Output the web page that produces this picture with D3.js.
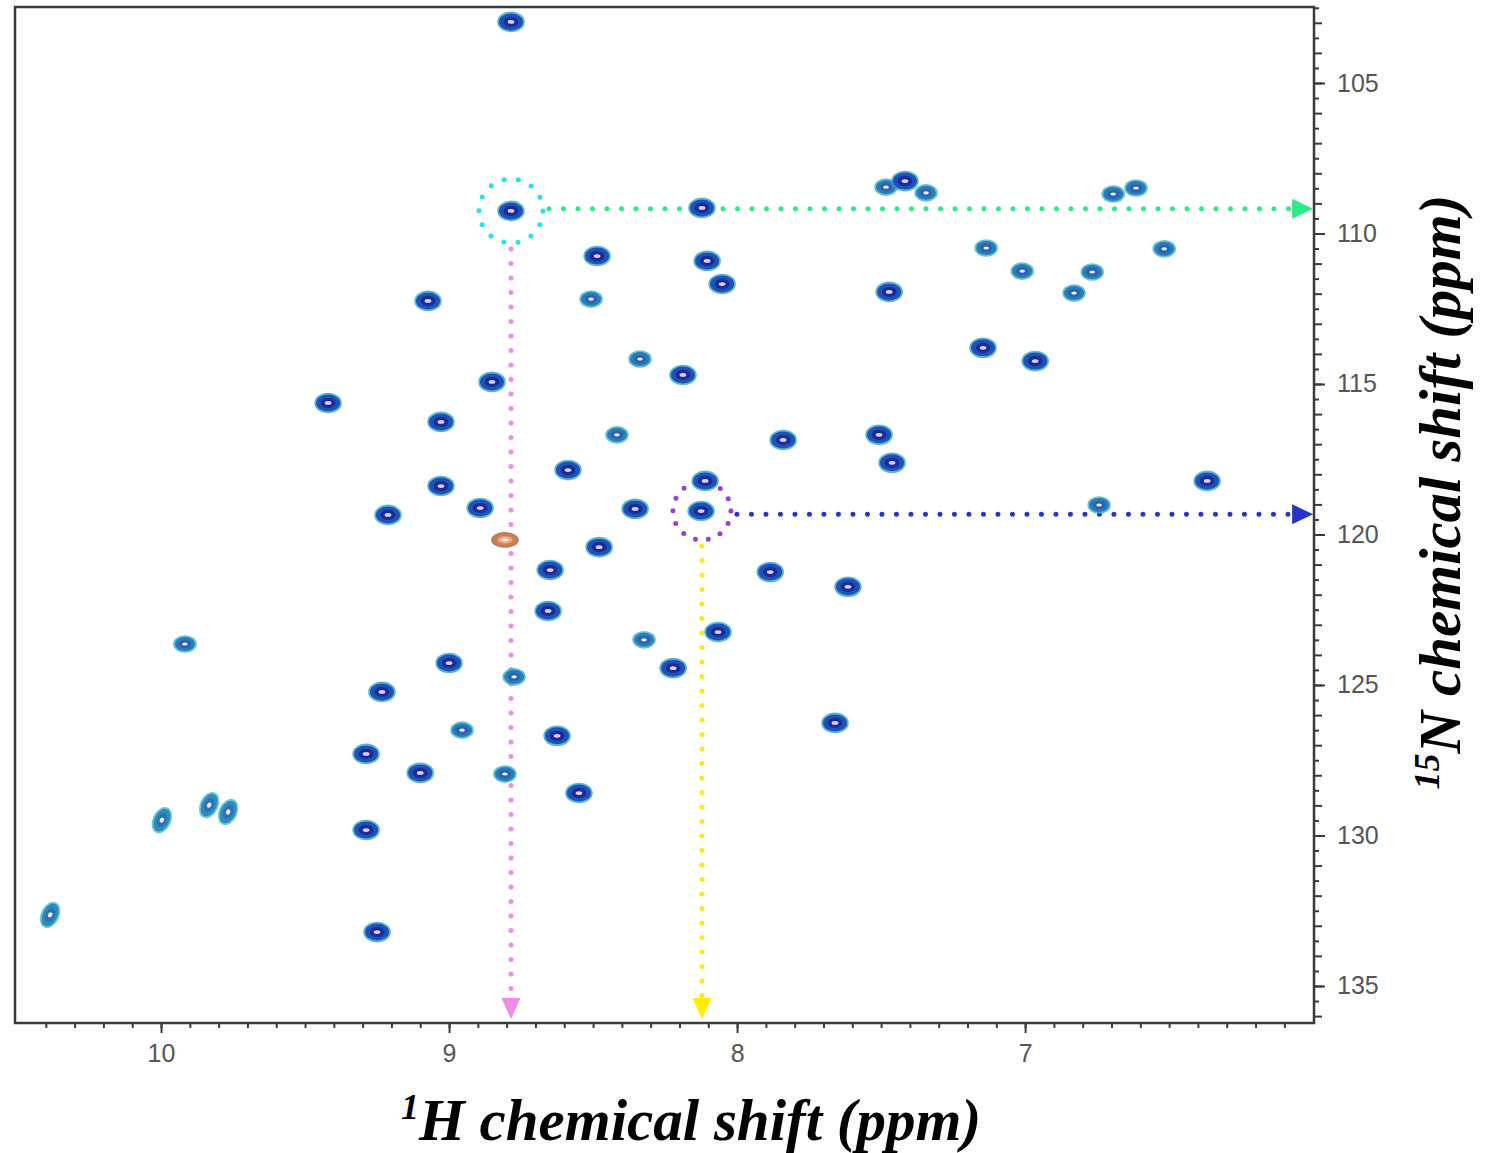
<!DOCTYPE html>
<html><head><meta charset="utf-8">
<script src="https://cdn.jsdelivr.net/npm/d3@7"></script>
<style>body{margin:0;background:#fff;}svg{display:block;}</style>
</head><body>
<svg id="c" width="1490" height="1153"></svg>
<script>
// 1H (ppm) and 15N (ppm) peak positions
const peakH = [8.785,8.785,8.122,7.483,7.417,7.344,6.694,6.615,7.135,6.517,7.010,6.767,6.830,8.486,8.104,8.052,9.073,8.507,7.472,7.146,6.965,8.337,8.188,8.851,9.420,9.028,8.417,7.840,7.507,7.462,8.587,9.028,8.111,6.368,8.892,9.212,8.354,8.125,6.743,8.806,8.479,8.649,7.885,7.615,8.656,8.066,8.323,9.917,9.000,8.222,8.774,9.233,8.955,7.660,8.625,9.288,9.100,8.806,8.549,9.833,9.767,9.997,9.288,10.385,9.250];
const peakN = [102.97,109.25,109.15,108.46,108.26,108.65,108.69,108.49,110.48,110.51,111.25,111.28,111.98,110.75,110.91,111.68,112.24,112.18,111.94,113.80,114.24,114.17,114.70,114.93,115.63,116.26,116.69,116.86,116.69,117.62,117.86,118.39,118.22,118.22,119.12,119.35,119.15,119.22,119.02,120.18,120.42,121.18,121.25,121.74,122.54,123.24,123.50,123.64,124.27,124.44,124.73,125.23,126.50,126.26,126.69,127.29,127.92,127.96,128.59,128.99,129.22,129.49,129.82,132.64,133.21];
// s = strong, w = weak, t = tilted (lineshape), o = negative / folded (orange)
const peakKind = ["s","s","s","w","s","w","w","w","w","w","w","w","w","s","s","s","s","w","s","s","s","w","s","s","s","s","w","s","s","s","s","s","s","s","s","s","s","s","w","o","s","s","s","s","s","s","w","w","s","s","w","s","w","s","s","s","s","w","s","t","t","t","s","t","s"];

const xTickLabels = ["10","9","8","7"];
const yTickLabels = ["105","110","115","120","125","130","135"];

// highlighted residues: circle + projections
const markH = [8.785, 8.122];
const markN = [109.25, 119.22];
const markLineN = [109.18, 119.33];
const markCircle = ["#27e0e8", "#9a3be0"];
const markHoriz = ["#2ee98a", "#2634c8"];
const markVert = ["#f08ae8", "#ffee00"];

const svg = d3.select("#c");
const L = 15, R = 1314, T = 7, B = 1023;
const x = d3.scaleLinear().domain([10.507, 5.997]).range([L, R]);
const y = d3.scaleLinear().domain([102.475, 136.23]).range([T, B]);

// frame
svg.append("rect").attr("x", L).attr("y", T).attr("width", R - L).attr("height", B - T)
  .attr("fill", "#fff").attr("stroke", "#3a3a3a").attr("stroke-width", 2.5);

// bottom axis
const xMinor = d3.range(104, 60, -1).map(v => v / 10).filter(v => v <= 10.5 && v >= 6.0);
const gx = svg.append("g").attr("transform", `translate(0,${B})`);
gx.call(d3.axisBottom(x).tickValues(xMinor).tickSize(5).tickFormat(""));
gx.select(".domain").remove();
gx.selectAll("line").attr("stroke", "#3a3a3a").attr("stroke-width", 2);
const gx2 = svg.append("g").attr("transform", `translate(0,${B})`);
gx2.call(d3.axisBottom(x).tickValues(xTickLabels.map(Number)).tickSize(10).tickPadding(11).tickFormat(d => d));
gx2.select(".domain").remove();
gx2.selectAll("line").attr("stroke", "#3a3a3a").attr("stroke-width", 2);
gx2.selectAll("text").attr("font-family", "Liberation Sans, Arial, sans-serif").attr("font-size", 25).attr("fill", "#555");

// right axis
const yMinor = d3.range(205, 273, 1).map(v => v / 2).filter(v => v >= 102.5 && v <= 136.2);
const gy = svg.append("g").attr("transform", `translate(${R},0)`);
gy.call(d3.axisRight(y).tickValues(yMinor).tickSize(0).tickFormat(""));
gy.select(".domain").remove();
gy.selectAll(".tick line").attr("x2", d => (d % 1 === 0 ? 8 : 5)).attr("stroke", "#3a3a3a").attr("stroke-width", 2);
const gy2 = svg.append("g").attr("transform", `translate(${R},0)`);
gy2.call(d3.axisRight(y).tickValues(yTickLabels.map(Number)).tickSize(11).tickPadding(12).tickFormat(d => d));
gy2.select(".domain").remove();
gy2.selectAll("line").attr("stroke", "#3a3a3a").attr("stroke-width", 2);
gy2.selectAll("text").attr("font-family", "Liberation Sans, Arial, sans-serif").attr("font-size", 25).attr("fill", "#555");

// projection lines (behind peaks)
const ann = svg.append("g");
markH.forEach((h, i) => {
  const cx = x(h), cy = y(markN[i]), ly = y(markLineN[i]);
  const r = i === 0 ? 32 : 29;
  // horizontal
  ann.append("line").attr("x1", cx + r + 6).attr("x2", x(6.04)).attr("y1", ly).attr("y2", ly)
    .attr("stroke", markHoriz[i]).attr("stroke-width", 5).attr("stroke-linecap", "round")
    .attr("stroke-dasharray", "0 14.5");
  ann.append("path").attr("d", `M${x(6.0)},${ly} l-21,-10 l0,20 z`).attr("fill", markHoriz[i]);
  // vertical
  ann.append("line").attr("x1", cx).attr("x2", cx).attr("y1", cy + r + 6).attr("y2", y(135.6))
    .attr("stroke", markVert[i]).attr("stroke-width", 5).attr("stroke-linecap", "round")
    .attr("stroke-dasharray", "0 14.5");
  ann.append("path").attr("d", `M${cx},${y(136.1)} l-9.5,-21 l19,0 z`).attr("fill", markVert[i]);
  // circle
  ann.append("circle").attr("cx", cx).attr("cy", cy).attr("r", r).attr("fill", "none")
    .attr("stroke", markCircle[i]).attr("stroke-width", 5).attr("stroke-linecap", "round")
    .attr("stroke-dasharray", `0 ${(2 * Math.PI * r / 14).toFixed(2)}`);
});

// peaks
const styles = {
  s: {rx: 12, ry: 8.5, rot: 0, c: ["#33a6c6", "#1f52b6", "#1b2c98", "#dccfff"]},
  w: {rx: 10, ry: 7, rot: 0, c: ["#3fb3c4", "#2a7cb8", "#2a62b2", "#f0eaff"]},
  t: {rx: 7.5, ry: 12, rot: 25, c: ["#48bccb", "#2e8cbc", "#2a72b4", "#f2e4ff"]},
  o: {rx: 12, ry: 6, rot: 0, c: ["#a8582a", "#cf7f4e", "#efa890", "#fff0e0"]}
};
const pg = svg.append("g");
peakH.forEach((h, i) => {
  const st = styles[peakKind[i]];
  const g = pg.append("g").attr("transform", `translate(${x(h)},${y(peakN[i])}) rotate(${st.rot})`);
  g.append("ellipse").attr("rx", st.rx + 1.8).attr("ry", st.ry + 1.8).attr("fill", st.c[0]).attr("opacity", 0.8);
  g.append("ellipse").attr("rx", st.rx).attr("ry", st.ry).attr("fill", st.c[1]);
  g.append("ellipse").attr("rx", st.rx * 0.62).attr("ry", st.ry * 0.6).attr("fill", st.c[2]);
  g.append("ellipse").attr("rx", st.rx * 0.28).attr("ry", st.ry * 0.22).attr("fill", st.c[3]);
});

// axis titles
const xt = svg.append("text").attr("x", 691).attr("y", 1140).attr("text-anchor", "middle")
  .attr("font-family", "Liberation Serif, Times New Roman, serif").attr("font-weight", "bold")
  .attr("font-style", "italic").attr("font-size", 59).attr("fill", "#000");
xt.append("tspan").attr("font-size", 36).attr("dy", -21).text("1");
xt.append("tspan").attr("dy", 21).text("H chemical shift (ppm)");

const yt = svg.append("text").attr("transform", "translate(1460,492) rotate(-90)").attr("text-anchor", "middle")
  .attr("font-family", "Liberation Serif, Times New Roman, serif").attr("font-weight", "bold")
  .attr("font-style", "italic").attr("font-size", 59).attr("fill", "#000");
yt.append("tspan").attr("font-size", 36).attr("dy", -21).text("15");
yt.append("tspan").attr("dy", 21).text("N chemical shift (ppm)");
</script>
</body></html>
